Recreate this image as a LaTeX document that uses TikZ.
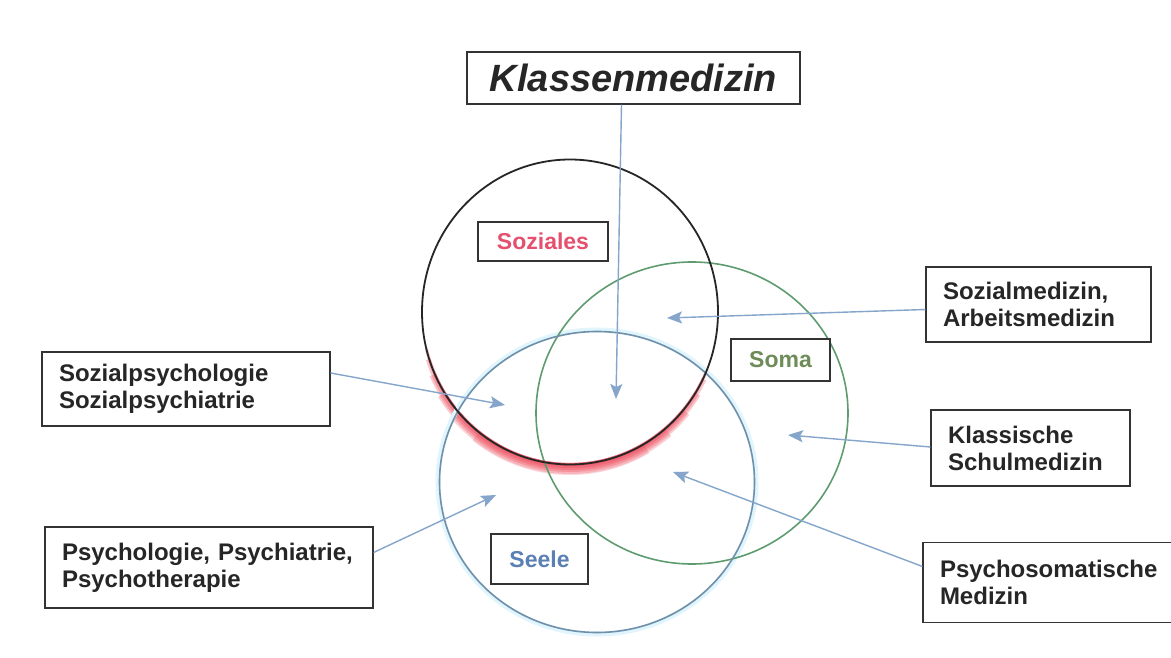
\documentclass[tikz,border=0pt]{standalone}
\usepackage{fontspec}
\setmainfont{Liberation Sans}
\usetikzlibrary{arrows.meta,calc}
\definecolor{txt}{HTML}{262626}
\definecolor{arrc}{HTML}{85A5CB}
\definecolor{grc}{HTML}{5E9C70}
\definecolor{blc}{HTML}{7090AA}
\definecolor{redt}{HTML}{E4506E}
\definecolor{somat}{HTML}{6E8C58}
\definecolor{seelet}{HTML}{5B80B4}
\definecolor{glowc}{HTML}{EE4455}
\begin{document}
\begin{tikzpicture}[x=1pt,y=1pt,
  lbox/.style={draw=black!80, line width=1.2pt, fill=white, align=left,
    font=\fontsize{24}{27}\selectfont\bfseries, text=txt,
    inner xsep=17pt, inner ysep=0pt, anchor=center},
  wbox/.style={draw=black!80, line width=1.2pt, fill=white, align=center,
    font=\fontsize{23}{26}\selectfont\bfseries, inner sep=0pt},
  arr/.style={draw=arrc, line width=1.4pt, -{Stealth[length=15pt,width=12pt,inset=3pt]}},
  ring/.style={line width=1.6pt},
  glowarc/.style={draw=glowc, line cap=butt}
]
\useasboundingbox[fill=white] (0,0) rectangle (1171,657);

% circle centres
\coordinate (cS) at (570,345);
\coordinate (cG) at (692,244);
\coordinate (cB) at (597,175);

% red glow below the black circle
\foreach \a/\b/\w/\o/\r in {194/338/3/0.35/150, 198/334/5/0.3/151, 204/328/7/0.3/152, 212/320/9/0.28/153, 222/310/11/0.25/154, 232/300/12/0.2/154.5}{
  \draw[glowarc, line width=\w pt, opacity=\o]
    ($(cS)+(\a:\r-2 and \r+2.5)$) arc[start angle=\a, end angle=\b, x radius=\r-2, y radius=\r+2.5];
}

% light glow of the blue circle
\draw[cyan!12, line width=5pt] (cB) ellipse[x radius=159, y radius=152];

% circles
\draw[ring, draw=grc] (cG) ellipse[x radius=156, y radius=151];
\draw[ring, draw=blc] (cB) ellipse[x radius=157.5, y radius=150.5];
\draw[ring, draw=black!85, line width=1.8pt] (cS) ellipse[x radius=148, y radius=152.5];

% label boxes in the circles
\node[wbox, minimum width=130pt, minimum height=39pt, text=redt] (soz) at (543,415.5) {Soziales};
\node[wbox, minimum width=99pt, minimum height=42pt, text=somat] (soma) at (780.5,297) {Soma};
\node[wbox, minimum width=97pt, minimum height=50pt, text=seelet] (seele) at (539.5,98) {Seele};

% title
\node[draw=black!80, line width=1.2pt, fill=white, inner sep=0pt,
  minimum width=333pt, minimum height=52pt, text=txt,
  font=\fontsize{38}{40}\selectfont\bfseries\itshape] (kl) at (633.5,579) {Klassenmedizin};

% side boxes
\node[lbox, text width=254pt, minimum height=74pt] (sp) at (186,268) {Sozialpsychologie\\Sozialpsychiatrie};
\node[lbox, text width=294pt, minimum height=81pt] (pp) at (209,89.5) {Psychologie, Psychiatrie,\\Psychotherapie};
\node[lbox, text width=191pt, minimum height=75pt] (sm) at (1038.5,352.5) {Sozialmedizin,\\Arbeitsmedizin};
\node[lbox, text width=165pt, minimum height=76pt] (ks) at (1030.5,209) {Klassische\\Schulmedizin};
\node[lbox, text width=228pt, minimum height=80pt] (ps) at (1054,74.5) {Psychosomatische\\Medizin};

% arrow targets
\coordinate (tK) at (616,258);
\coordinate (tSM) at (667,339);
\coordinate (tSP) at (505,252);
\coordinate (tKS) at (788,222);
\coordinate (tPP) at (496,162);
\coordinate (tPS) at (673,185);

% arrows
\draw[arr] ([xshift=-12pt]kl.south) -- (tK);
\draw[arr] ([yshift=-5pt]sm.west) -- (tSM);
\draw[arr] ([yshift=16pt]sp.east) -- (tSP);
\draw[arr] ([yshift=1pt]ks.west) -- (tKS);
\draw[arr] ([yshift=15pt]pp.east) -- (tPP);
\draw[arr] ([yshift=16pt]ps.west) -- (tPS);
\end{tikzpicture}
\end{document}
